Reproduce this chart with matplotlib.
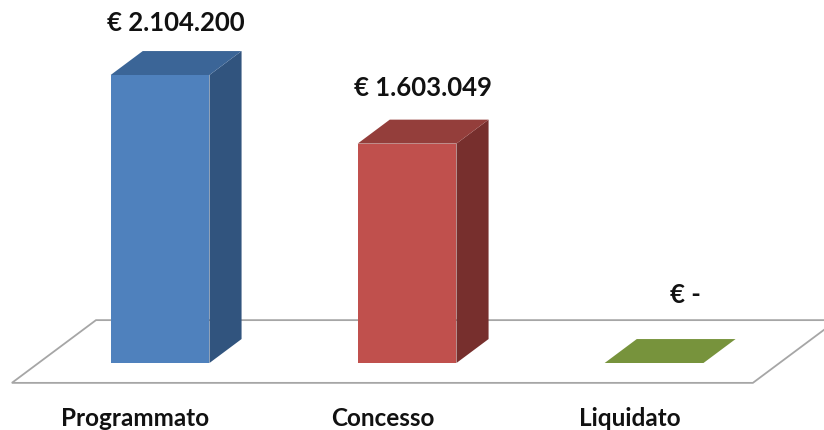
import matplotlib

matplotlib.use("Agg")

import matplotlib.pyplot as plt  # noqa: E402
from matplotlib.patches import Polygon  # noqa: E402

# data
categories = ["Programmato", "Concesso", "Liquidato"]
values = [2104200, 1603049, 0]
value_labels = ["€ 2.104.200", "€ 1.603.049", "€ -"]

front_colors = ["#4F81BD", "#C0504D", "#77933C"]
top_colors = ["#3B6597", "#943E3B", "#77933C"]
side_colors = ["#31547E", "#772F2D", "#5E762F"]

# geometry (x in category units, y in euros)
BAR_W = 0.40
DX = 0.13            # depth offset, horizontal
DY = 175000          # depth offset, vertical (euros)
Y_PER_PX = 7306.25


def face(pts, color, z):
    return Polygon(pts, closed=True, facecolor=color, edgecolor="none", zorder=z)


fig = plt.figure(figsize=(8.24, 4.30), dpi=100)
ax = fig.add_axes([0, 0, 1, 1])
ax.set_xlim(-0.648, 2.688)
ax.set_ylim(-67 * Y_PER_PX, 363 * Y_PER_PX)
ax.axis("off")

# floor plane at zero
x0, x1 = -0.60 + 0.83 * DX, 2.40 + 0.83 * DX
f_front, f_back = -0.83, 1.79
floor = [
    (x0 + f_front * DX, f_front * DY),
    (x1 + f_front * DX, f_front * DY),
    (x1 + f_back * DX, f_back * DY),
    (x0 + f_back * DX, f_back * DY),
]
ax.add_patch(Polygon(floor, closed=True, facecolor="white", edgecolor="#A6A6A6",
                     linewidth=1.3, zorder=1))

for i, (v, lab, cat) in enumerate(zip(values, value_labels, categories)):
    l, r = i - BAR_W / 2, i + BAR_W / 2
    if v > 0:
        ax.add_patch(face([(l, 0), (r, 0), (r, v), (l, v)], front_colors[i], 3))
        ax.add_patch(face([(r, 0), (r + DX, DY), (r + DX, v + DY), (r, v)],
                          side_colors[i], 3))
    ax.add_patch(face([(l, v), (r, v), (r + DX, v + DY), (l + DX, v + DY)],
                      top_colors[i], 3))

    ly = v * 0.945 + 68 * Y_PER_PX
    lx = i + DX / 2 if v > 0 else i + DX / 2 + 0.06
    ax.text(lx, ly, lab, ha="center", va="center", fontsize=18.5,
            fontweight="bold", family="Lato", color="#111111", zorder=5)
    ax.text(i - 0.10, -56 * Y_PER_PX, cat, ha="center", va="center",
            fontsize=17.5, fontweight="bold", family="Lato", color="#111111")

fig.savefig("out.png", dpi=100)
